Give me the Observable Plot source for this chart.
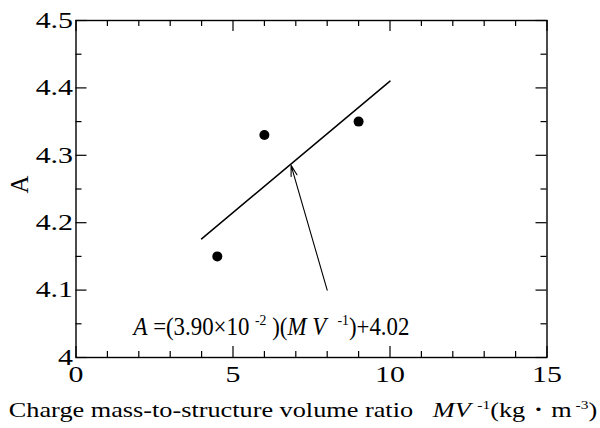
<!DOCTYPE html>
<html><head><meta charset="utf-8">
<script src="https://cdn.jsdelivr.net/npm/d3@7"></script>
<script src="https://cdn.jsdelivr.net/npm/@observablehq/plot@0.6"></script>
<style>
body{margin:0;background:#fff}
svg text{white-space:pre}
</style>
</head><body><div id="chart"></div>
<script>
// ---- data ----
const ratio = [4.5, 6, 9];            // MV^-1 (kg·m^-3)
const coefA = [4.15, 4.33, 4.35];     // A
const fitX = [4, 10];                 // fitted line end points
const fitY = [4.176, 4.41];
const arrowTail = [8, 4.10];
const arrowHead = [6.85, 4.285];
const xMajorTicks = [0, 5, 10, 15];
const xMinorTicks = [1, 2, 3, 4, 6, 7, 8, 9, 11, 12, 13, 14];
const yMajorTicks = [4, 4.1, 4.2, 4.3, 4.4, 4.5];
const yMinorTicks = [4.05, 4.15, 4.25, 4.35, 4.45];
const equationPos = [1.83, 4.034];
const yLabel = "A";

const points = ratio.map((x, i) => ({x, y: coefA[i]}));
const fit = fitX.map((x, i) => ({x, y: fitY[i]}));
const arrow = [{x1: arrowTail[0], y1: arrowTail[1], x2: arrowHead[0], y2: arrowHead[1]}];

const W = 600, H = 428;
const mL = 75.5, mR = 53.5, mT = 20, mB = 71;
const fw = W - mL - mR, fh = H - mT - mB;
const MAJ = 11, MIN = 6;
const FONT = "'Liberation Serif','Times New Roman',serif";

const plot = Plot.plot({
  width: W, height: H,
  marginLeft: mL, marginRight: mR, marginTop: mT, marginBottom: mB,
  style: {fontFamily: FONT, fontSize: "23px", color: "#000", background: "#fff"},
  x: {domain: [0, 15]},
  y: {domain: [4, 4.5]},
  marks: [
    // inward ticks
    Plot.tickX(xMajorTicks, {x: d => d, insetTop: fh - MAJ, stroke: "#000", strokeWidth: 1.2}),
    Plot.tickX(xMajorTicks, {x: d => d, insetBottom: fh - MAJ, stroke: "#000", strokeWidth: 1.2}),
    Plot.tickX(xMinorTicks, {x: d => d, insetTop: fh - MIN, stroke: "#000", strokeWidth: 1.2}),
    Plot.tickX(xMinorTicks, {x: d => d, insetBottom: fh - MIN, stroke: "#000", strokeWidth: 1.2}),
    Plot.tickY(yMajorTicks, {y: d => d, insetRight: fw - MAJ, stroke: "#000", strokeWidth: 1.2}),
    Plot.tickY(yMajorTicks, {y: d => d, insetLeft: fw - MAJ, stroke: "#000", strokeWidth: 1.2}),
    Plot.tickY(yMinorTicks, {y: d => d, insetRight: fw - MIN, stroke: "#000", strokeWidth: 1.2}),
    Plot.tickY(yMinorTicks, {y: d => d, insetLeft: fw - MIN, stroke: "#000", strokeWidth: 1.2}),
    Plot.frame({stroke: "#000", strokeWidth: 1.4}),
    Plot.axisX({ticks: xMajorTicks, tickSize: 0, tickPadding: 8, tickFormat: d => String(d), label: null, fontSize: 23}),
    Plot.axisY({ticks: yMajorTicks, tickSize: 0, tickPadding: 3, tickFormat: d => String(+d.toFixed(1)), label: null, fontSize: 23}),
    Plot.line(fit, {x: "x", y: "y", stroke: "#000", strokeWidth: 1.5}),
    Plot.dot(points, {x: "x", y: "y", r: 5, fill: "#000", stroke: "none"}),
    Plot.arrow(arrow, {x1: "x1", y1: "y1", x2: "x2", y2: "y2", stroke: "#000", strokeWidth: 1.1, headLength: 15, headAngle: 32}),
    Plot.text([equationPos], {x: d => d[0], y: d => d[1], text: () => "EQ", textAnchor: "start", lineAnchor: "bottom", fontSize: 25, fill: "#000", className: "eqn"}),
    Plot.text(["XL"], {frameAnchor: "bottom", textAnchor: "middle", lineAnchor: "bottom", dx: -8.5, dy: 59.7, fontSize: 22, fill: "#000", className: "xlabel"}),
    Plot.text([yLabel], {frameAnchor: "left", dx: -56, dy: 4.5, rotate: -90, fontSize: 25, fill: "#000"})
  ]
});
document.getElementById("chart").appendChild(plot);

const NS = "http://www.w3.org/2000/svg";
function rich(el, parts) {
  el.textContent = "";
  let shift = 0;
  for (const p of parts) {
    const ts = document.createElementNS(NS, "tspan");
    ts.textContent = p.t;
    if (p.i) ts.setAttribute("font-style", "italic");
    const target = p.sup ? -p.sup : 0;
    if (target !== shift) { ts.setAttribute("dy", target - shift); shift = target; }
    if (p.fs) ts.setAttribute("font-size", p.fs);
    el.appendChild(ts);
  }
}
function stretch(el, sx) {
  const t = el.getAttribute("transform") || "";
  const x = +el.getAttribute("x") || 0, y = +el.getAttribute("y") || 0;
  el.setAttribute("transform", `${t} translate(${x},${y}) scale(${sx},1) translate(${-x},${-y})`);
}
function fitWidth(el, target) {
  const w = el.getBBox().width;
  if (w > 0) stretch(el, target / w);
}

const eq = plot.querySelector("g.eqn text, .eqn text");
rich(eq, [
  {t: "A", i: true},
  {t: " =(3.90×10 "},
  {t: "-2", sup: 10, fs: 15},
  {t: " )("},
  {t: "M V", i: true},
  {t: "  "},
  {t: "-1", sup: 10, fs: 15},
  {t: ")+4.02"}
]);
fitWidth(eq, 278);

const xl = plot.querySelector("g.xlabel text, .xlabel text");
rich(xl, [
  {t: "Charge mass-to-structure volume ratio   "},
  {t: "MV", i: true},
  {t: " "},
  {t: "-1", sup: 8, fs: 13},
  {t: "(kg・m"},
  {t: " -3", sup: 8, fs: 13},
  {t: ")"}
]);
fitWidth(xl, 589);

plot.querySelectorAll("g[aria-label='x-axis tick label'] text, g[aria-label='y-axis tick label'] text")
  .forEach(el => stretch(el, 1.3));
</script>
</body></html>
